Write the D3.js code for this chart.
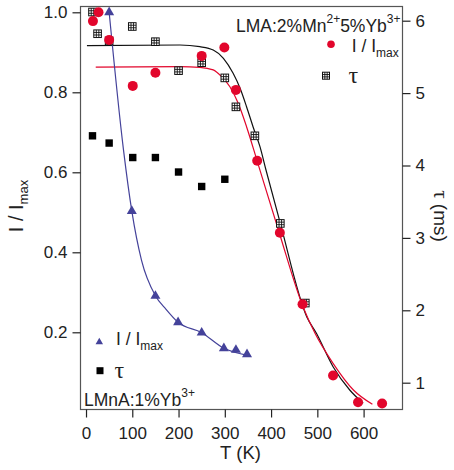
<!DOCTYPE html>
<html>
<head>
<meta charset="utf-8">
<script src="https://cdn.jsdelivr.net/npm/d3@7"></script>
<style>
  body { margin: 0; background: #fff; }
  svg { display: block; }
  text { font-family: "Liberation Sans", Arial, Helvetica, sans-serif; fill: #222; }
  .tau { font-family: "Liberation Serif", "DejaVu Serif", serif; }
</style>
</head>
<body>
<svg id="chart" width="454" height="470"></svg>
<script>
// LMA:2%Mn2+ 5%Yb3+ : normalised intensity (left axis) and lifetime in ms (right axis)
const lmaIntT = [15, 27, 50, 101, 150, 250, 299, 324, 370, 419, 468, 534, 588, 640];
const lmaIntV = [0.978, 1.0, 0.931, 0.816, 0.849, 0.891, 0.912, 0.806, 0.629, 0.449, 0.27, 0.092, 0.025, 0.022];
const lmaTauT = [14, 25, 50, 100, 150, 200, 250, 300, 324, 365, 420, 474];
const lmaTauV = [6.12, 5.82, 5.72, 5.92, 5.71, 5.31, 5.42, 5.21, 4.81, 4.41, 3.20, 2.10];

// LMnA:1%Yb3+ : normalised intensity and lifetime
const lmnaIntT = [50, 99, 150, 199, 250, 298, 324, 348];
const lmnaIntV = [1.0, 0.503, 0.291, 0.225, 0.199, 0.16, 0.156, 0.145];
const lmnaTauT = [14, 50, 101, 150, 200, 250, 300];
const lmnaTauV = [4.41, 4.31, 4.11, 4.11, 3.91, 3.71, 3.81];

// fitted curves
const tauFitT = [2, 203, 246, 275, 297, 318, 333, 347, 361, 376, 389, 419, 477, 498, 534, 570, 599];
const tauFitV = [5.655, 5.664, 5.641, 5.595, 5.481, 5.273, 5.066, 4.812, 4.536, 4.26, 3.938, 3.224, 1.912, 1.682, 1.221, 0.899, 0.716];
const intFitT = [21, 203, 246, 275, 293, 311, 329, 347, 370, 417, 469, 495, 534, 578, 619];
const intFitV = [0.863, 0.864, 0.8625, 0.856, 0.839, 0.814, 0.7725, 0.714, 0.628, 0.4515, 0.264, 0.1975, 0.1225, 0.0558, 0.02];
const lmnaFitT = [50, 81, 99, 120, 150, 173, 199, 250, 298, 347];
const lmnaFitV = [1.0, 0.656, 0.503, 0.38, 0.2915, 0.2575, 0.225, 0.199, 0.16, 0.143];

// axis ticks
const xTicks = [0, 100, 200, 300, 400, 500, 600];
const yLeftTicks = [0.2, 0.4, 0.6, 0.8, 1.0];
const yRightTicks = [1, 2, 3, 4, 5, 6];

const zip = (a, b) => a.map((v, i) => [v, b[i]]);

const svg = d3.select("#chart");
const box = { left: 80, right: 402, top: 6, bottom: 409 };

const x = d3.scaleLinear().domain([-13, 683]).range([box.left, box.right]);
const yL = d3.scaleLinear().domain([0.00825, 1.01575]).range([box.bottom, box.top]);
const yR = d3.scaleLinear().domain([0.6367, 6.203]).range([box.bottom, box.top]);

const RED = "#e2062c", BLUE = "#44429a";

// frame
svg.append("rect")
  .attr("x", box.left + 0.5).attr("y", box.top + 0.5)
  .attr("width", box.right - box.left).attr("height", box.bottom - box.top)
  .attr("fill", "none").attr("stroke", "#555").attr("stroke-width", 1.2);

function styleAxis(g) {
  g.select(".domain").remove();
  g.selectAll(".tick line").attr("stroke", "#222").attr("stroke-width", 1.2);
  g.selectAll(".tick text").style("font-size", "17px").attr("fill", "#222");
}

svg.append("g").attr("transform", `translate(${box.left + 0.5},0)`)
  .call(d3.axisLeft(yL).tickValues(yLeftTicks).tickFormat(d3.format(".1f")).tickSize(8).tickPadding(5))
  .call(styleAxis);
svg.append("g").attr("transform", `translate(${box.right + 0.5},0)`)
  .call(d3.axisRight(yR).tickValues(yRightTicks).tickFormat(d3.format("d")).tickSize(8).tickPadding(5))
  .call(styleAxis);
svg.append("g").attr("transform", `translate(0,${box.bottom + 0.5})`)
  .call(d3.axisBottom(x).tickValues(xTicks).tickFormat(d3.format("d")).tickSize(8).tickPadding(9))
  .call(styleAxis);

// axis titles
const yLab = svg.append("text").attr("transform", "translate(23,206) rotate(-90)")
  .attr("text-anchor", "middle").style("font-size", "20px");
yLab.append("tspan").text("I / I");
yLab.append("tspan").attr("dy", 5).style("font-size", "13px").text("max");

const yRLab = svg.append("text").attr("transform", "translate(434,216) rotate(90)")
  .attr("text-anchor", "middle").style("font-size", "19px");
yRLab.append("tspan").attr("class", "tau").style("font-size", "21px").text("τ");
yRLab.append("tspan").text(" (ms)");

svg.append("text").attr("x", 240.5).attr("y", 459).attr("text-anchor", "middle")
  .style("font-size", "18.5px").text("T (K)");

// fitted curves
const lineL = d3.line().x(d => x(d[0])).y(d => yL(d[1])).curve(d3.curveMonotoneX);
const lineR = d3.line().x(d => x(d[0])).y(d => yR(d[1])).curve(d3.curveMonotoneX);

svg.append("path").datum(zip(tauFitT, tauFitV)).attr("d", lineR)
  .attr("fill", "none").attr("stroke", "#111").attr("stroke-width", 1.2);
svg.append("path").datum(zip(intFitT, intFitV)).attr("d", lineL)
  .attr("fill", "none").attr("stroke", RED).attr("stroke-width", 1.2);
svg.append("path").datum(zip(lmnaFitT, lmnaFitV)).attr("d", lineL)
  .attr("fill", "none").attr("stroke", BLUE).attr("stroke-width", 1.2);

// marker helpers
function hatched(g, cx, cy, s) {
  const h = s / 2;
  g.append("rect").attr("x", cx - h).attr("y", cy - h).attr("width", s).attr("height", s)
    .attr("fill", "#fff").attr("stroke", "#111").attr("stroke-width", 1);
  [1 / 3, 2 / 3].forEach(f => {
    g.append("line").attr("x1", cx - h + s * f).attr("x2", cx - h + s * f)
      .attr("y1", cy - h).attr("y2", cy + h).attr("stroke", "#111").attr("stroke-width", 0.9);
    g.append("line").attr("y1", cy - h + s * f).attr("y2", cy - h + s * f)
      .attr("x1", cx - h).attr("x2", cx + h).attr("stroke", "#111").attr("stroke-width", 0.9);
  });
}
const tri = s => d3.symbol().type(d3.symbolTriangle).size(Math.sqrt(3) / 4 * s * s)();

// LMnA lifetime: filled black squares
svg.append("g").selectAll("rect").data(zip(lmnaTauT, lmnaTauV)).join("rect")
  .attr("x", d => x(d[0]) - 3.7).attr("y", d => yR(d[1]) - 3.7)
  .attr("width", 7.4).attr("height", 7.4).attr("fill", "#000");

// LMnA intensity: blue triangles
svg.append("g").selectAll("path").data(zip(lmnaIntT, lmnaIntV)).join("path")
  .attr("d", tri(10)).attr("transform", d => `translate(${x(d[0])},${yL(d[1])})`)
  .attr("fill", BLUE);

// LMA lifetime: hatched squares
const hg = svg.append("g");
zip(lmaTauT, lmaTauV).forEach(d => hatched(hg, x(d[0]), yR(d[1]), 7.6));

// LMA intensity: red dots
svg.append("g").selectAll("circle").data(zip(lmaIntT, lmaIntV)).join("circle")
  .attr("cx", d => x(d[0])).attr("cy", d => yL(d[1])).attr("r", 5).attr("fill", RED);

// legend: LMA sample
const t1 = svg.append("text").attr("x", 236).attr("y", 31.5).style("font-size", "17.5px");
t1.append("tspan").text("LMA:2%Mn");
t1.append("tspan").attr("dy", -9).style("font-size", "12px").text("2+");
t1.append("tspan").attr("dy", 9).text("5%Yb");
t1.append("tspan").attr("dy", -9).style("font-size", "12px").text("3+");

svg.append("circle").attr("cx", 331).attr("cy", 44.3).attr("r", 3.8).attr("fill", RED);
const l1 = svg.append("text").attr("x", 351.7).attr("y", 51.7).style("font-size", "17.5px");
l1.append("tspan").text("I / I");
l1.append("tspan").attr("dy", 5).style("font-size", "12px").text("max");
hatched(svg.append("g"), 326, 75.7, 7);
svg.append("text").attr("class", "tau").attr("x", 348.5).attr("y", 83).style("font-size", "24px").text("τ");

// legend: LMnA sample
svg.append("path").attr("d", tri(7.5)).attr("transform", "translate(99.3,342)").attr("fill", BLUE);
const l2 = svg.append("text").attr("x", 116).attr("y", 345).style("font-size", "17.5px");
l2.append("tspan").text("I / I");
l2.append("tspan").attr("dy", 5).style("font-size", "12px").text("max");
svg.append("rect").attr("x", 96.5).attr("y", 367.2).attr("width", 7).attr("height", 7).attr("fill", "#000");
svg.append("text").attr("class", "tau").attr("x", 114.5).attr("y", 378).style("font-size", "24px").text("τ");

const t2 = svg.append("text").attr("x", 84).attr("y", 405.5).style("font-size", "17.5px");
t2.append("tspan").text("LMnA:1%Yb");
t2.append("tspan").attr("dy", -9).style("font-size", "12px").text("3+");
</script>
</body>
</html>
